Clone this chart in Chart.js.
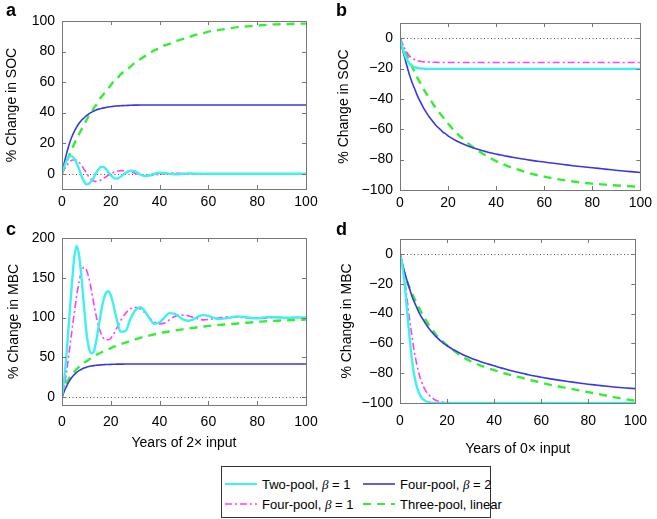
<!DOCTYPE html>
<html>
<head>
<meta charset="utf-8">
<script src="https://cdn.jsdelivr.net/npm/chart.js@4.4.1/dist/chart.umd.min.js"></script>
<style>
body { margin: 0; background: #fff; font-family: "Liberation Sans", Arial, sans-serif; }
#wrap { position: relative; width: 657px; height: 519px; overflow: hidden; }
canvas { position: absolute; }
.letra { position: absolute; font-weight: bold; font-size: 18px; line-height: 18px; }
#leyenda { position: absolute; left: 221px; top: 466px; width: 268px; height: 50px; border: 1px solid #333; background: #fff; }
.item { position: absolute; height: 15px; font-size: 13px; line-height: 15px; white-space: nowrap; }
.item svg { position: absolute; left: 0; top: 2px; }
.item span { position: absolute; left: 37px; top: 0; }
.item i { font-family: "Liberation Serif", serif; }
</style>
</head>
<body>
<div id="wrap">
  <canvas id="panel-a" width="330" height="215" style="left:0;top:0"></canvas>
  <canvas id="panel-b" width="327" height="215" style="left:330px;top:0"></canvas>
  <canvas id="panel-c" width="330" height="250" style="left:0;top:215px"></canvas>
  <canvas id="panel-d" width="327" height="250" style="left:330px;top:215px"></canvas>
  <div class="letra" style="left:6px;top:1px">a</div>
  <div class="letra" style="left:336px;top:1px">b</div>
  <div class="letra" style="left:6px;top:220px">c</div>
  <div class="letra" style="left:336px;top:220px">d</div>
  <div id="leyenda"></div>
</div>
<script>
// años de simulación (eje x compartido)
const years = [0,1,2,3,4,5,6,7,8,9,10,11,12,13,14,15,16,17,18,19,20,21,22,23,24,
  26,28,30,32,34,36,38,40,42,44,46,48,50,52,54,56,58,60,
  64,68,72,76,80,84,88,92,96,100];
const yearTicks = [0,20,40,60,80,100];

// a: SOC con 2x input
const socA_twoPool = [0,5,9,11,11.5,10,7,3,-1.5,-5,-7,-6.5,-5,-2.5,0.5,3,4.5,4.5,3,1,-1,-2.5,-3.2,-3,-2,
  0.5,2,1.5,-0.5,-1.5,-1,0,0.6,0.5,0,-0.3,-0.3,0,0.2,0.1,0,-0.1,0,
  0,0,0,0,0,0,0,0,0,0];
const socA_fourPool2 = [0,7.5,14,19.5,24,27.5,30.5,33,35,36.5,38,39.2,40.2,41,41.7,42.3,42.7,43.1,43.4,43.7,43.9,44.1,44.3,44.4,44.5,
  44.7,44.8,44.9,45,45,45,45,45,45,45,45,45,45,45,45,45,45,45,
  45,45,45,45,45,45,45,45,45,45];
const socA_fourPool1 = [0,3,5.5,7.5,8.8,9.2,8.8,7.5,5.5,3,0.5,-2,-3.8,-4.8,-5.1,-4.8,-4,-3,-2,-1,0,0.8,1.4,1.8,2,
  1.8,1.2,0.4,-0.4,-1,-1.1,-0.8,-0.4,0,0.3,0.4,0.3,0.1,-0.1,-0.2,-0.1,0,0,
  0,0,0,0,0,0,0,0,0,0];
const socA_threePool = [0,4.3,8.3,12.2,16,19.5,23,26,29,32,35,38,40,43,45,48,50,52,54,56,58,60,61.5,63,65,
  67.5,70,73,75,77,79,81,82,84,85,86.5,87.5,88.5,89.5,90.5,91.5,92,93,
  94,95,96,96.5,97,97.5,97.8,98,98.2,98.3];
const socATicks = [0,20,40,60,80,100];

// b: SOC con 0x input
const socB_twoPool = [0,-6,-11,-14.5,-16.8,-18.2,-19,-19.5,-19.8,-20,-20.1,-20.2,-20.2,-20.2,-20.2,-20.2,-20.2,-20.2,-20.2,-20.2,-20.2,-20.2,-20.2,-20.2,-20.2,
  -20.2,-20.2,-20.2,-20.2,-20.2,-20.2,-20.2,-20.2,-20.2,-20.2,-20.2,-20.2,-20.2,-20.2,-20.2,-20.2,-20.2,-20.2,
  -20.2,-20.2,-20.2,-20.2,-20.2,-20.2,-20.2,-20.2,-20.2,-20.2];
const socB_fourPool2 = [0,-7,-13,-19,-24.5,-29,-33,-37,-40.5,-43.5,-46.5,-49,-51.5,-53.5,-55.5,-57.5,-59,-60.5,-62,-63,-64.3,-65.3,-66.3,-67.2,-68,
  -69.5,-70.8,-72,-73,-74,-74.8,-75.6,-76.3,-77,-77.6,-78.2,-78.8,-79.3,-79.8,-80.3,-80.8,-81.2,-81.6,
  -82.4,-83.2,-84,-84.7,-85.3,-86,-86.7,-87.3,-87.9,-88.5];
const socB_fourPool1 = [0,-3.5,-7,-9.8,-11.8,-13.2,-14.1,-14.7,-15.1,-15.4,-15.6,-15.7,-15.8,-15.8,-15.9,-15.9,-16,-16,-16,-16,-16,-16,-16,-16,-16,
  -16,-16,-16,-16,-16,-16,-16,-16,-16,-16,-16,-16,-16,-16,-16,-16,-16,-16,
  -16,-16,-16,-16,-16,-16,-16,-16,-16,-16];
const socB_threePool = [0,-4.2,-8,-11.8,-15.3,-18.8,-22,-25.3,-28.3,-31,-34,-36.5,-39,-41.5,-44,-46,-48.3,-50.3,-52.3,-54.3,-56.3,-58,-60,-61.6,-63.2,
  -66,-68.8,-71.4,-73.6,-75.6,-77.5,-79.3,-81,-82.4,-83.8,-85,-86,-87,-88,-89,-89.8,-90.5,-91.2,
  -92.4,-93.5,-94.4,-95.2,-95.8,-96.3,-96.8,-97.2,-97.5,-98];
const socBTicks = [-100,-80,-60,-40,-20,0];

// c: MBC con 2x input
const mbcC_twoPool = [0,25,60,100,140,175,190,178,150,115,82,62,55,57,70,88,107,122,131,133,128,117,103,91,82,
  83,98,109,113,108,98,92,94,100,105.5,105,101,97,96,98,101.5,103,102,
  98,99.5,101.5,100,99,100.5,100.3,99.6,100,100];
const mbcC_fourPool2 = [0,8,14.5,20,24.5,28,31,33.3,35,36.5,37.6,38.4,39,39.5,39.9,40.2,40.5,40.7,40.9,41,41.1,41.2,41.3,41.4,41.4,
  41.5,41.5,41.5,41.5,41.5,41.5,41.5,41.5,41.5,41.5,41.5,41.5,41.5,41.5,41.5,41.5,41.5,41.5,
  41.5,41.5,41.5,41.5,41.5,41.5,41.5,41.5,41.5,41.5];
const mbcC_fourPool1 = [0,15,35,58,82,105,127,145,158,163,160,150,135,118,102,89,80,74,72,72,74,78,84,90,96,
  105,111,113,111,106,99,94,92,93,97,101,103,103,102,100,98,97,97.5,
  99.5,101,100.5,99.5,99,99.5,100,100,100,99.5];
const mbcC_threePool = [0,13,19,24,28.5,32,35,38,40.5,43,45,47,49,51,53,54.5,56,57.5,59,60,61.5,63,64,65,66.5,
  68.5,70.5,72.5,74.5,76,77.5,79,80.5,81.5,82.5,83.5,84.5,85.5,86.5,87,88,88.5,89.5,
  90.5,91.5,92.5,93.5,94.5,95.5,96,96.5,97,97.5];
const mbcCTicks = [0,50,100,150,200];

// d: MBC con 0x input
const mbcD_twoPool = [0,-8,-21,-38,-55,-70,-81,-88,-93,-96,-97.8,-98.8,-99.4,-99.7,-99.9,-100,-100,-100,-100,-100,-100,-100,-100,-100,-100,
  -100,-100,-100,-100,-100,-100,-100,-100,-100,-100,-100,-100,-100,-100,-100,-100,-100,-100,
  -100,-100,-100,-100,-100,-100,-100,-100,-100,-100];
const mbcD_fourPool2 = [0,-6.5,-12.5,-18,-23,-28,-32,-35.5,-39,-42,-44.5,-47,-49.3,-51.3,-53.2,-55,-56.5,-58,-59.3,-60.5,-61.6,-62.6,-63.6,-64.5,-65.3,
  -67,-68.5,-69.8,-71,-72.1,-73.1,-74.1,-75,-76,-76.9,-77.8,-78.6,-79.4,-80.1,-80.8,-81.5,-82.1,-82.7,
  -83.8,-84.8,-85.7,-86.6,-87.4,-88.1,-88.8,-89.4,-89.9,-90.4];
const mbcD_fourPool1 = [0,-6,-17,-30,-43,-54,-65,-73,-80,-85,-89,-92,-94,-95.7,-97,-98,-98.6,-99,-99.3,-99.5,-99.7,-99.8,-99.9,-100,-100,
  -100,-100,-100,-100,-100,-100,-100,-100,-100,-100,-100,-100,-100,-100,-100,-100,-100,-100,
  -100,-100,-100,-100,-100,-100,-100,-100,-100,-100];
const mbcD_threePool = [0,-8,-13.5,-18.5,-22.5,-26,-29.5,-33,-36,-39,-42,-44.5,-47,-49.5,-51.5,-53.5,-55.5,-57,-58.5,-60,-61.3,-62.6,-63.8,-65,-66.2,
  -68.5,-70.3,-72,-73.4,-74.7,-75.9,-77,-78,-79,-79.9,-80.8,-81.6,-82.4,-83.2,-84,-84.8,-85.6,-86.4,
  -87.8,-89.1,-90.3,-91.5,-92.7,-93.9,-95.2,-96.4,-97.5,-98.5];
const mbcDTicks = [-100,-80,-60,-40,-20,0];

const seriesNames = ['Two-pool, β = 1', 'Four-pool, β = 2', 'Four-pool, β = 1', 'Three-pool, linear'];

// estilos de cada modelo (mismo orden que seriesNames)
const estilos = [
  { color: '#3ff0f0', width: 2.4, dash: [] },
  { color: '#3838e0', width: 1.6, dash: [] },
  { color: '#ff3cff', width: 1.6, dash: [7, 3, 2, 3] },
  { color: '#33ee33', width: 2.4, dash: [8, 6] }
];

const fuente = { family: '"Liberation Sans", Arial, sans-serif', size: 14 };

// marco gris con marcas hacia dentro + linea punteada en cero
const marco = {
  id: 'marco',
  beforeDatasetsDraw(chart) {
    const { ctx, chartArea: a, scales: { y } } = chart;
    const y0 = Math.round(y.getPixelForValue(0)) + 0.5;
    ctx.save();
    ctx.strokeStyle = '#555';
    ctx.lineWidth = 1;
    ctx.setLineDash([1, 2.5]);
    ctx.beginPath();
    ctx.moveTo(a.left, y0);
    ctx.lineTo(a.right, y0);
    ctx.stroke();
    ctx.restore();
  },
  afterDatasetsDraw(chart) {
    const { ctx, chartArea: a, scales: { x, y } } = chart;
    const L = 4;
    ctx.save();
    ctx.strokeStyle = '#777';
    ctx.lineWidth = 1;
    ctx.beginPath();
    x.ticks.forEach(t => {
      const px = Math.round(x.getPixelForValue(t.value)) + 0.5;
      ctx.moveTo(px, a.bottom); ctx.lineTo(px, a.bottom - L);
      ctx.moveTo(px, a.top); ctx.lineTo(px, a.top + L);
    });
    y.ticks.forEach(t => {
      const py = Math.round(y.getPixelForValue(t.value)) + 0.5;
      ctx.moveTo(a.left, py); ctx.lineTo(a.left + L, py);
      ctx.moveTo(a.right, py); ctx.lineTo(a.right - L, py);
    });
    ctx.stroke();
    ctx.strokeRect(Math.round(a.left) + 0.5, Math.round(a.top) + 0.5, Math.round(a.width), Math.round(a.height));
    ctx.restore();
  }
};

const fmt = v => (v < 0 ? '\u2212' + Math.abs(v) : '' + v);

function panel(id, series, cfg) {
  const data = series.map((ys, i) => ({
    label: seriesNames[i],
    data: years.map((x, k) => ({ x: x, y: ys[k] })),
    borderColor: estilos[i].color,
    borderWidth: estilos[i].width,
    borderDash: estilos[i].dash,
    pointRadius: 0,
    cubicInterpolationMode: 'monotone',
    fill: false
  }));
  new Chart(document.getElementById(id).getContext('2d'), {
    type: 'line',
    data: { datasets: data },
    options: {
      responsive: false,
      animation: false,
      layout: { padding: { top: cfg.top, right: cfg.right, bottom: 0, left: 0 } },
      plugins: { legend: { display: false }, tooltip: { enabled: false } },
      scales: {
        x: {
          type: 'linear', min: 0, max: 100,
          grid: { display: false, drawTicks: false },
          border: { display: false },
          afterBuildTicks: s => { s.ticks = yearTicks.map(v => ({ value: v })); },
          afterFit: s => { s.height = cfg.xh; },
          ticks: { color: '#000', font: fuente, padding: cfg.xpad, maxRotation: 0 },
          title: { display: !!cfg.xtitle, text: cfg.xtitle, color: '#000', font: fuente, padding: { top: 0, bottom: cfg.xtpad } }
        },
        y: {
          min: cfg.ymin, max: cfg.ymax,
          grid: { display: false, drawTicks: false },
          border: { display: false },
          afterBuildTicks: s => { s.ticks = cfg.yticks.map(v => ({ value: v })); },
          afterFit: s => { s.width = cfg.yw; },
          ticks: { color: '#000', font: fuente, padding: 7, callback: fmt },
          title: { display: true, text: cfg.ytitle, color: '#000', font: fuente, padding: { top: cfg.ytpad, bottom: 0 } }
        }
      }
    },
    plugins: [marco]
  });
}

panel('panel-a', [socA_twoPool, socA_fourPool2, socA_fourPool1, socA_threePool], {
  top: 21, right: 24, xh: 26, yw: 62, xpad: 5, ymin: -10, ymax: 100, yticks: socATicks,
  ytitle: '% Change in SOC', ytpad: 4
});
panel('panel-b', [socB_twoPool, socB_fourPool2, socB_fourPool1, socB_threePool], {
  top: 23, right: 12, xh: 25, yw: 70, xpad: 5, ymin: -100, ymax: 10, yticks: socBTicks,
  ytitle: '% Change in SOC', ytpad: 6
});
panel('panel-c', [mbcC_twoPool, mbcC_fourPool2, mbcC_fourPool1, mbcC_threePool], {
  top: 23, right: 24, xh: 60, yw: 62, xpad: 9, ymin: -10, ymax: 200, yticks: mbcCTicks,
  ytitle: '% Change in MBC', ytpad: 6, xtitle: 'Years of 2\u00d7 input', xtpad: 13
});
panel('panel-d', [mbcD_twoPool, mbcD_fourPool2, mbcD_fourPool1, mbcD_threePool], {
  top: 24, right: 13, xh: 62, yw: 70, xpad: 10, ymin: -100, ymax: 10, yticks: mbcDTicks,
  ytitle: '% Change in MBC', ytpad: 9, xtitle: 'Years of 0\u00d7 input', xtpad: 7
});

// leyenda en HTML con muestras de linea
const leyenda = document.getElementById('leyenda');
const huecos = [[3, 10], [141, 10], [3, 30], [141, 30]];
const orden = [0, 1, 2, 3];
orden.forEach((i, k) => {
  const e = estilos[i];
  const item = document.createElement('div');
  item.className = 'item';
  item.style.left = huecos[k][0] + 'px';
  item.style.top = huecos[k][1] + 'px';
  const partes = seriesNames[i].split('β');
  const texto = partes.length > 1 ? partes[0] + '<i>β</i>' + partes[1] : partes[0];
  item.innerHTML = '<svg width="32" height="10"><line x1="0" y1="5" x2="32" y2="5" stroke="' + e.color +
    '" stroke-width="' + Math.min(e.width, 2) + '" stroke-dasharray="' + (e.dash.length ? e.dash.join(',') : 'none') +
    '"/></svg><span>' + texto + '</span>';
  leyenda.appendChild(item);
});
</script>
</body>
</html>
